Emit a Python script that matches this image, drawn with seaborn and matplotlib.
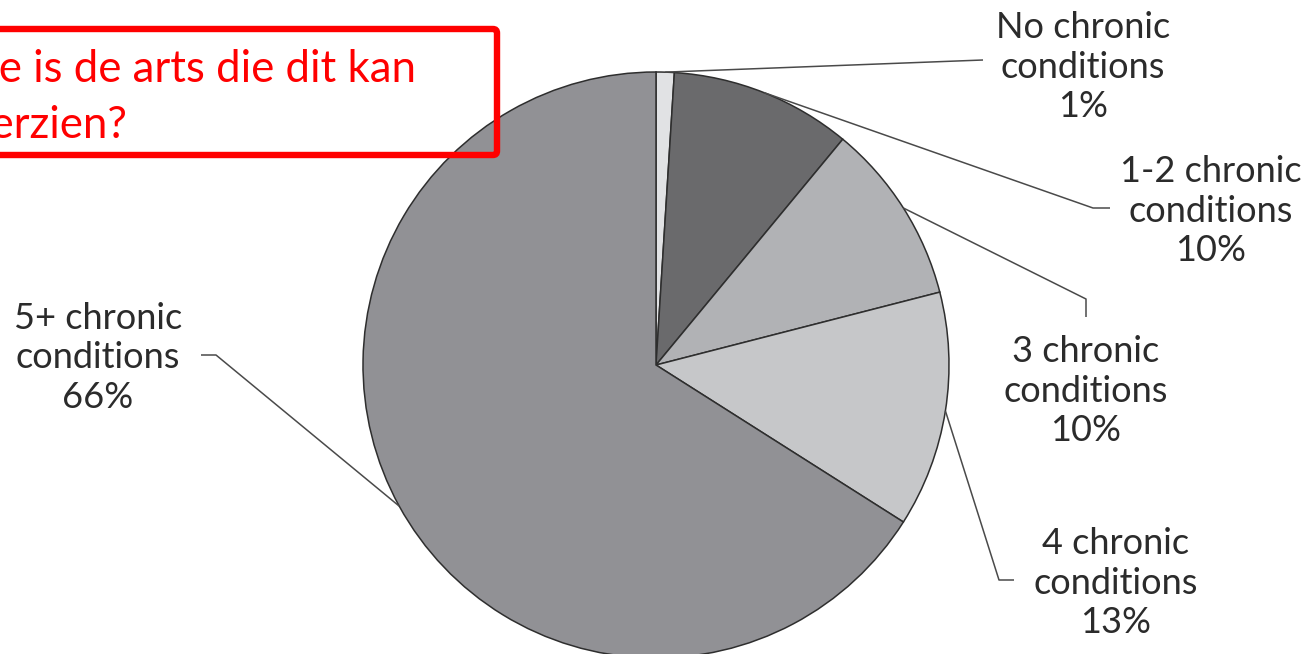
import matplotlib
matplotlib.use("Agg")
import matplotlib.pyplot as plt
from matplotlib.patches import FancyBboxPatch
import numpy as np
import seaborn as sns

# Share of patients by number of chronic conditions
categories = ["No chronic\nconditions", "1-2 chronic\nconditions", "3 chronic\nconditions",
              "4 chronic\nconditions", "5+ chronic\nconditions"]
shares = [1, 10, 10, 13, 66]
slice_colors = ["#e1e2e4", "#6a6a6c", "#b1b2b5", "#c6c7c9", "#919195"]
question = "Wie is de arts die dit kan\noverzien?"

sns.set_theme(style="white")
plt.rcParams["font.family"] = ["Lato", "DejaVu Sans"]

W, H = 1310, 654
fig = plt.figure(figsize=(W / 100, H / 100), dpi=100)
ax = fig.add_axes([0, 0, 1, 1])


def px(x, y):
    """Canvas position measured from the top-left corner."""
    return x, H - y


cx, cy = px(656, 365)
radius = 293
wedges, _ = ax.pie(shares, colors=slice_colors, startangle=90, counterclock=False,
                   center=(cx, cy), radius=radius, frame=True,
                   wedgeprops=dict(edgecolor="#2e2e2e", linewidth=1.1))

# Label placement: leader path after leaving the slice, then the label centre
leader_paths = [
    [(983, 60)],
    [(1093, 208), (1110, 208)],
    [(1086, 299), (1086, 317)],
    [(999, 580), (1014, 580)],
    [(216, 355), (201, 355)],
]
label_centres = [(1083, 67), (1211, 211), (1086, 391), (1116, 583), (98, 358)]

for wedge, cat, val, path, centre in zip(wedges, categories, shares, leader_paths, label_centres):
    mid = np.deg2rad((wedge.theta1 + wedge.theta2) / 2)
    start = (cx + radius * np.cos(mid), cy + radius * np.sin(mid))
    pts = [start] + [px(*p) for p in path]
    xs, ys = zip(*pts)
    ax.plot(xs, ys, color="#4a4a4a", linewidth=1.1, solid_capstyle="butt", zorder=3)
    tx, ty = px(*centre)
    ax.text(tx, ty, f"{cat}\n{val}%", ha="center", va="center", fontsize=26,
            color="#2b2b2b", linespacing=1.23, zorder=4)

# Red callout box with the question, running off the left edge
bx0, by0 = px(-30, 155)
box = FancyBboxPatch((bx0, by0), 527, 126, boxstyle="round,pad=0,rounding_size=4",
                     facecolor="none", edgecolor="#ff0000", linewidth=4.6, zorder=5)
ax.add_patch(box)
qx, qy = px(-57, 49)
ax.text(qx, qy, question, ha="left", va="top", fontsize=31.5, color="#ff0000",
        linespacing=1.46, zorder=6)

ax.set_xlim(0, W)
ax.set_ylim(0, H)
ax.set_aspect("equal", adjustable="box")
ax.axis("off")

fig.savefig("out.png", dpi=100, facecolor="white")
